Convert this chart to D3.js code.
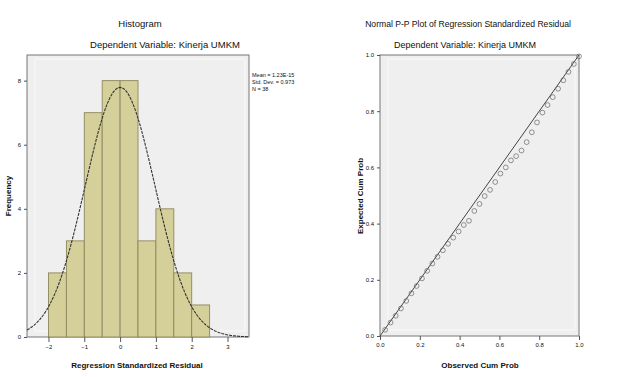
<!DOCTYPE html>
<html>
<head>
<meta charset="utf-8">
<script src="https://cdn.jsdelivr.net/npm/d3@7"></script>
<style>
  body { margin: 0; background: #fff; }
  text { font-family: "Liberation Sans", Arial, sans-serif; fill: #111; }
</style>
</head>
<body>
<svg id="chart" width="623" height="377"></svg>
<script>
// histogram bins (lower edge, upper edge, count)
var binStart = [-2, -1.5, -1, -0.5, 0, 0.5, 1, 1.5, 2];
var binEnd   = [-1.5, -1, -0.5, 0, 0.5, 1, 1.5, 2, 2.5];
var binCount = [2, 3, 7, 8, 8, 3, 4, 2, 1];
var histXTicks = [-2, -1, 0, 1, 2, 3];
var histYTicks = [0, 2, 4, 6, 8];
var statLines = ["Mean = 1.23E-15", "Std. Dev. = 0.973", "N = 38"];
var resMean = 0, resSd = 0.973, resN = 38, binWidth = 0.5;

// P-P plot points
var obsCum = [0.026,0.053,0.079,0.105,0.132,0.158,0.184,0.211,0.237,0.263,0.289,0.316,0.342,0.368,0.395,0.421,0.447,0.474,0.500,
              0.526,0.553,0.579,0.605,0.632,0.658,0.684,0.711,0.737,0.763,0.789,0.816,0.842,0.868,0.895,0.921,0.947,0.974,1.000];
var expCum = [0.022,0.048,0.072,0.098,0.125,0.152,0.178,0.205,0.232,0.258,0.282,0.305,0.328,0.350,0.372,0.395,0.410,0.445,0.470,
              0.498,0.520,0.548,0.578,0.600,0.625,0.640,0.660,0.690,0.725,0.760,0.795,0.822,0.850,0.880,0.910,0.940,0.968,0.995];
var ppTicks = [0, 0.2, 0.4, 0.6, 0.8, 1.0];

var svg = d3.select("#chart");

function frame(x0, y0, x1, y1) {
  svg.append("rect").attr("x", x0).attr("y", y0).attr("width", x1 - x0).attr("height", y1 - y0)
    .attr("fill", "#efefef").attr("stroke", "#777").attr("stroke-width", 1);
  svg.append("rect").attr("x", x0 + 8).attr("y", y0 + 4).attr("width", x1 - x0 - 12).attr("height", y1 - y0 - 10)
    .attr("fill", "none").attr("stroke", "#fafafa").attr("stroke-width", 1);
}

// ---------- histogram ----------
var hx = d3.scaleLinear().domain([-2.6, 3.6]).range([27, 249]);
var hy = d3.scaleLinear().domain([0, 8.8]).range([337, 55]);

svg.append("text").attr("x", 140).attr("y", 27).attr("text-anchor", "middle")
  .style("font-size", "9.5px").text("Histogram");
svg.append("text").attr("x", 165).attr("y", 48).attr("text-anchor", "middle")
  .style("font-size", "9.5px").text("Dependent Variable: Kinerja UMKM");

frame(27, 55, 249, 337);

var bins = binCount.map(function(c, i) { return { a: binStart[i], b: binEnd[i], n: c }; });
svg.selectAll("rect.bar").data(bins).enter().append("rect").attr("class", "bar")
  .attr("x", function(d) { return hx(d.a); })
  .attr("width", function(d) { return hx(d.b) - hx(d.a); })
  .attr("y", function(d) { return hy(d.n); })
  .attr("height", function(d) { return hy(0) - hy(d.n); })
  .attr("fill", "#d5d09a").attr("stroke", "#8c875c").attr("stroke-width", 0.9);

var curvePts = d3.range(-2.6, 3.601, 0.05).map(function(v) {
  var z = (v - resMean) / resSd;
  return [v, resN * binWidth * Math.exp(-0.5 * z * z) / (resSd * Math.sqrt(2 * Math.PI))];
});
svg.append("path").datum(curvePts)
  .attr("d", d3.line().x(function(d) { return hx(d[0]); }).y(function(d) { return hy(d[1]); }))
  .attr("fill", "none").attr("stroke", "#333").attr("stroke-width", 1.1).attr("stroke-dasharray", "3,1");

svg.append("g").attr("transform", "translate(0,337)")
  .call(d3.axisBottom(hx).tickValues(histXTicks).tickFormat(d3.format("d")).tickSize(5).tickSizeOuter(0))
  .call(function(g) { g.select(".domain").remove(); g.selectAll("line").attr("stroke", "#555"); g.selectAll("text").style("font-size", "6px").attr("fill", "#333"); });
svg.append("g").attr("transform", "translate(27,0)")
  .call(d3.axisLeft(hy).tickValues(histYTicks).tickFormat(d3.format("d")).tickSize(3).tickSizeOuter(0))
  .call(function(g) { g.select(".domain").remove(); g.selectAll("line").attr("stroke", "#555"); g.selectAll("text").style("font-size", "6px").attr("fill", "#333"); });

svg.append("text").attr("x", 137).attr("y", 368).attr("text-anchor", "middle")
  .style("font-size", "8px").style("font-weight", "bold").text("Regression Standardized Residual");
svg.append("text").attr("transform", "translate(11,196) rotate(-90)").attr("text-anchor", "middle")
  .style("font-size", "8px").style("font-weight", "bold").text("Frequency");

svg.selectAll("text.stat").data(statLines).enter().append("text").attr("class", "stat")
  .attr("x", 252).attr("y", function(d, i) { return 77 + i * 7; })
  .style("font-size", "5.5px").text(function(d) { return d; });

// ---------- P-P plot ----------
var px = d3.scaleLinear().domain([0, 1]).range([380, 579]);
var py = d3.scaleLinear().domain([0, 1]).range([336, 55]);

svg.append("text").attr("x", 468).attr("y", 27).attr("text-anchor", "middle")
  .style("font-size", "8.6px").text("Normal P-P Plot of Regression Standardized Residual");
svg.append("text").attr("x", 465).attr("y", 48).attr("text-anchor", "middle")
  .style("font-size", "9px").text("Dependent Variable: Kinerja UMKM");

frame(380, 55, 579, 336);

svg.append("line").attr("x1", px(0)).attr("y1", py(0)).attr("x2", px(1)).attr("y2", py(1))
  .attr("stroke", "#444").attr("stroke-width", 1);

var pts = obsCum.map(function(o, i) { return [o, expCum[i]]; });
svg.selectAll("circle.pp").data(pts).enter().append("circle").attr("class", "pp")
  .attr("cx", function(d) { return px(d[0]); }).attr("cy", function(d) { return py(d[1]); })
  .attr("r", 2.4).attr("fill", "none").attr("stroke", "#666").attr("stroke-width", 0.7);

svg.append("g").attr("transform", "translate(0,336)")
  .call(d3.axisBottom(px).tickValues(ppTicks).tickFormat(d3.format(".1f")).tickSize(4).tickSizeOuter(0))
  .call(function(g) { g.select(".domain").remove(); g.selectAll("line").attr("stroke", "#555"); g.selectAll("text").style("font-size", "6px").attr("fill", "#333"); });
svg.append("g").attr("transform", "translate(380,0)")
  .call(d3.axisLeft(py).tickValues(ppTicks).tickFormat(d3.format(".1f")).tickSize(3).tickSizeOuter(0))
  .call(function(g) { g.select(".domain").remove(); g.selectAll("line").attr("stroke", "#555"); g.selectAll("text").style("font-size", "6px").attr("fill", "#333"); });

svg.append("text").attr("x", 480).attr("y", 368).attr("text-anchor", "middle")
  .style("font-size", "8px").style("font-weight", "bold").text("Observed Cum Prob");
svg.append("text").attr("transform", "translate(363,196) rotate(-90)").attr("text-anchor", "middle")
  .style("font-size", "8px").style("font-weight", "bold").text("Expected Cum Prob");
</script>
</body>
</html>
